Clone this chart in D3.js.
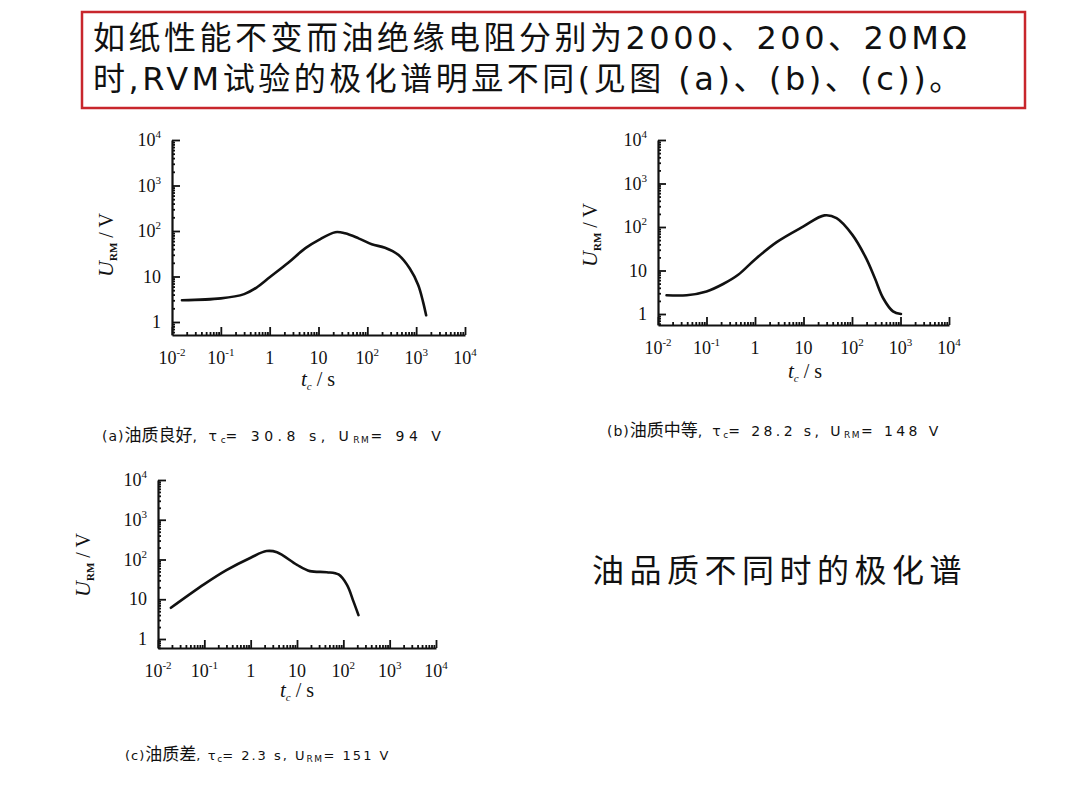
<!DOCTYPE html>
<html>
<head>
<meta charset="utf-8">
<script src="https://cdn.jsdelivr.net/npm/d3@7"></script>
<style>
body { margin: 0; background: #fff; }
</style>
</head>
<body>
<svg width="1080" height="810"></svg>
<script>
// decades on the axes (exponents of 10)
const xDecades = [-2, -1, 0, 1, 2, 3, 4];
const yDecades = [0, 1, 2, 3, 4];

// (a) good oil
const tA = [0.016, 0.1, 0.3, 0.55, 1, 2.4, 5.4, 10, 22, 35, 66, 123, 230, 430, 740, 1100, 1380, 1600];
const uA = [3.0, 3.3, 4.1, 5.8, 9.6, 20, 42, 63, 94, 89, 69, 51, 43, 30, 15, 6.5, 2.8, 1.4];
// (b) medium oil
const tB = [0.015, 0.039, 0.1, 0.22, 0.45, 1, 2.8, 9.8, 27, 48, 102, 196, 295, 440, 700, 1020];
const uB = [2.7, 2.7, 3.3, 4.9, 8.0, 18, 45, 102, 185, 160, 66, 19, 6.7, 2.3, 1.15, 1.0];
// (c) poor oil
const tC = [0.019, 0.1, 0.3, 1, 2.2, 3.7, 10, 19, 44, 79, 120, 166, 212];
const uC = [6.1, 24, 54, 111, 163, 152, 73, 51, 48, 42, 23, 8.7, 4.0];

const capTags = ['(a)', '(b)', '(c)'];
const capQuality = ['油质良好', '油质中等', '油质差'];
const capTau = ['30.8', '28.2', '2.3'];
const capURM = ['94', '148', '151'];

const titleLines = [
  '如纸性能不变而油绝缘电阻分别为2000、200、20MΩ',
  '时,RVM试验的极化谱明显不同(见图 (a)、(b)、(c))。'
];
const sideNote = '油品质不同时的极化谱';

const svg = d3.select('svg');
const serif = '"Liberation Serif", "DejaVu Serif", serif';
const cjk = '"Noto Sans CJK SC", "Noto Sans", sans-serif';
const mixed = '"DejaVu Sans", "Noto Sans CJK SC", sans-serif';

// title box
svg.append('rect')
  .attr('x', 82).attr('y', 12).attr('width', 943).attr('height', 96)
  .attr('fill', 'none').attr('stroke', '#c8262c').attr('stroke-width', 2.5);
svg.selectAll('.title').data(titleLines).join('text')
  .attr('x', 93).attr('y', (d, i) => 49 + i * 41)
  .attr('font-family', mixed).attr('font-size', 32)
  .attr('letter-spacing', 3.5)
  .attr('fill', '#111')
  .text(d => d);

svg.append('text')
  .attr('x', 592).attr('y', 582)
  .attr('font-family', cjk).attr('font-size', 32)
  .attr('letter-spacing', 5.5)
  .attr('fill', '#111')
  .text(sideNote);

const panels = [
  { t: tA, u: uA, x0: 172, x1: 465, yTop: 140, yOne: 322, yAxis: 335, ylab: [113, 245], xlab: [318, 386], cap: [102, 441], capGap: 4.5, capSize: 14 },
  { t: tB, u: uB, x0: 658, x1: 949, yTop: 140, yOne: 314, yAxis: 325, ylab: [597, 235], xlab: [805, 378], cap: [607, 436], capGap: 3.4, capSize: 14 },
  { t: tC, u: uC, x0: 158, x1: 436, yTop: 480, yOne: 639, yAxis: 648, ylab: [90, 565], xlab: [297, 697], cap: [125, 760], capGap: 2, capSize: 13 }
];

function powLabel(sel, e) {
  if (e === 0) { sel.text('1'); return; }
  sel.append('tspan').text('10');
  if (e !== 1) {
    sel.append('tspan').attr('font-size', 11).attr('dy', -8).text(e);
  }
}

const minors = d3.range(-2, 4).flatMap(e => d3.range(2, 10).map(m => m * Math.pow(10, e)));

panels.forEach((p, pi) => {
  const dec = (p.yOne - p.yTop) / 4;
  const yMin = Math.pow(10, -(p.yAxis - p.yOne) / dec);
  const x = d3.scaleLog().domain([1e-2, 1e4]).range([p.x0, p.x1]);
  const y = d3.scaleLog().domain([yMin, 1e4]).range([p.yAxis, p.yTop]);
  const g = svg.append('g');

  // x axis, ticks pointing inward (up)
  g.append('g').attr('transform', `translate(0,${p.yAxis})`)
    .call(d3.axisBottom(x).tickValues(xDecades.map(e => Math.pow(10, e)))
      .tickSize(-8).tickSizeOuter(0).tickFormat(''));
  g.append('g').attr('transform', `translate(0,${p.yAxis})`)
    .call(d3.axisBottom(x).tickValues(minors).tickSize(-3).tickSizeOuter(0).tickFormat(''))
    .call(s => s.select('.domain').remove());

  // y axis, ticks pointing inward (right)
  g.append('g').attr('transform', `translate(${p.x0},0)`)
    .call(d3.axisLeft(y).tickValues(yDecades.map(e => Math.pow(10, e)))
      .tickSize(-8).tickSizeOuter(0).tickFormat(''));
  g.append('g').attr('transform', `translate(${p.x0},0)`)
    .call(d3.axisLeft(y).tickValues(minors.filter(v => v > yMin && v < 1e4)).tickSize(-3).tickSizeOuter(0).tickFormat(''))
    .call(s => s.select('.domain').remove());

  g.selectAll('.domain').attr('stroke', '#111').attr('stroke-width', 2.2);
  g.selectAll('.tick line').attr('stroke', '#111').attr('stroke-width', 1.8);

  // tick labels
  g.selectAll('.xl').data(xDecades).join('text')
    .attr('x', d => x(Math.pow(10, d)))
    .attr('y', p.yAxis + 29)
    .attr('text-anchor', 'middle')
    .attr('font-family', serif).attr('font-size', 18).attr('fill', '#111')
    .each(function (d) { powLabel(d3.select(this), d); });
  g.selectAll('.yl').data(yDecades).join('text')
    .attr('x', p.x0 - 11)
    .attr('y', d => y(Math.pow(10, d)) + 6)
    .attr('text-anchor', 'end')
    .attr('font-family', serif).attr('font-size', 18).attr('fill', '#111')
    .each(function (d) { powLabel(d3.select(this), d); });

  // axis titles
  const yl = g.append('text')
    .attr('transform', `translate(${p.ylab[0]},${p.ylab[1]}) rotate(-90)`)
    .attr('text-anchor', 'middle')
    .attr('font-family', serif).attr('fill', '#111');
  yl.append('tspan').attr('font-style', 'italic').attr('font-size', 22).text('U');
  yl.append('tspan').attr('font-size', 11).attr('font-weight', 'bold').attr('dy', 4).text('RM');
  yl.append('tspan').attr('font-size', 20).attr('dy', -4).text(' / V');

  const xl = g.append('text')
    .attr('x', p.xlab[0]).attr('y', p.xlab[1])
    .attr('text-anchor', 'middle')
    .attr('font-family', serif).attr('fill', '#111');
  xl.append('tspan').attr('font-style', 'italic').attr('font-size', 21).text('t');
  xl.append('tspan').attr('font-style', 'italic').attr('font-size', 11).attr('dy', 4).text('c');
  xl.append('tspan').attr('font-size', 20).attr('dy', -4).text(' / s');

  // curve
  const line = d3.line()
    .x((d, i) => x(p.t[i]))
    .y((d, i) => y(p.u[i]))
    .curve(d3.curveCatmullRom.alpha(0.5));
  g.append('path')
    .datum(p.u)
    .attr('d', line)
    .attr('fill', 'none')
    .attr('stroke', '#111')
    .attr('stroke-width', 2.6)
    .attr('stroke-linecap', 'round');

  // caption
  const ct = g.append('text')
    .attr('x', p.cap[0]).attr('y', p.cap[1])
    .attr('font-family', '"DejaVu Sans", sans-serif').attr('fill', '#111')
    .attr('font-size', p.capSize);
  ct.append('tspan').attr('letter-spacing', 1).text(capTags[pi]);
  ct.append('tspan').attr('font-family', cjk).attr('font-size', 17).text(capQuality[pi]);
  ct.append('tspan').attr('letter-spacing', p.capGap * 0.8).text(', τ');
  ct.append('tspan').attr('font-size', 9).attr('dy', 2).text('c');
  ct.append('tspan').attr('dy', -2).attr('letter-spacing', p.capGap).text(`= ${capTau[pi]} s, U`);
  ct.append('tspan').attr('font-size', 9).attr('dy', 2).attr('letter-spacing', 1.5).text('RM');
  ct.append('tspan').attr('dy', -2).attr('letter-spacing', p.capGap).text(`= ${capURM[pi]} V`);
});
</script>
</body>
</html>
